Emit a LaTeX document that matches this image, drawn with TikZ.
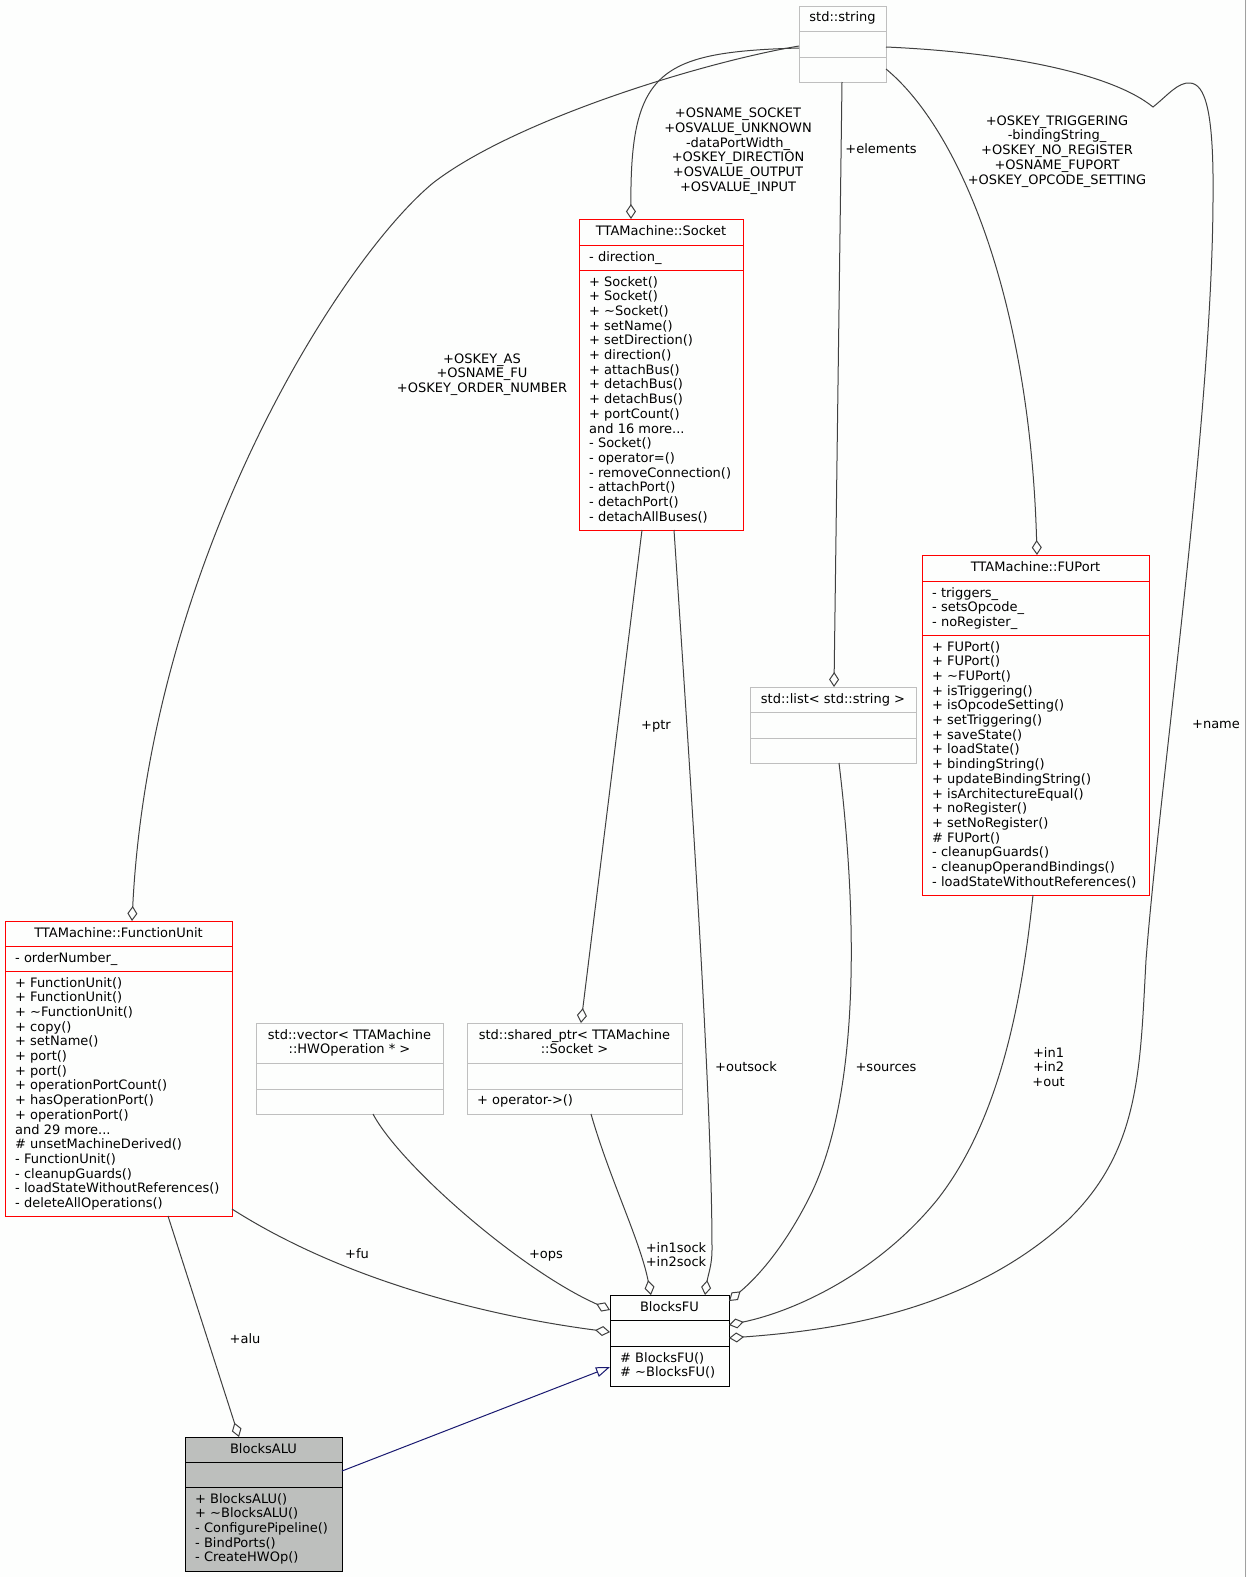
\documentclass[tikz,border=0pt]{standalone}
\usepackage{fontspec}
\setmainfont{DejaVu Sans}
\usetikzlibrary{arrows.meta}
\definecolor{edgegray}{HTML}{404040}
\definecolor{boxgray}{HTML}{BFBFBF}
\definecolor{altfill}{HTML}{BDBFBD}
\definecolor{inhblue}{HTML}{191970}
\definecolor{pagebg}{HTML}{FDFEFD}
\definecolor{rimgray}{HTML}{A0A0A0}
\newcommand{\dgS}{\rule{0pt}{11pt}}
\tikzset{
  classbox/.style={draw=#1, line width=1pt, inner sep=0pt, outer sep=0pt, anchor=north west},
  divider/.style={draw=#1, line width=1pt},
  ttl/.style={anchor=north, inner sep=0pt, align=center},
  mem/.style={anchor=north west, inner sep=0pt, align=left},
  lbl/.style={anchor=north, inner sep=0pt, align=center},
  agg/.style={draw=edgegray, line width=1pt, -{Diamond[open,length=15pt,width=10pt]}},
  inh/.style={draw=inhblue, line width=1pt, -{Triangle[open,length=14pt,width=10pt]}}
}
\begin{document}
\begin{tikzpicture}[x=1pt, y=-1pt, font=\fontsize{13}{14.7}\selectfont]
\useasboundingbox (0,0) rectangle (1247,1577);
\fill[pagebg] (0,0) rectangle (1247,1577);
\draw[rimgray, line width=1.2pt] (1245.8,0) -- (1245.8,1577);

% ---------- class boxes ----------
% std::string
\node[classbox=boxgray, minimum width=87pt, minimum height=76pt] (str) at (799,6) {};
\draw[divider=boxgray] (799,31.5) -- (886,31.5);
\draw[divider=boxgray] (799,57) -- (886,57);
\node[ttl] (str-t) at (842.5,10.5) {\dgS std::string};

% TTAMachine::Socket
\node[classbox=red, minimum width=164pt, minimum height=311pt] (socket) at (579,219) {};
\draw[divider=red] (579,245) -- (743,245);
\draw[divider=red] (579,270) -- (743,270);
\node[ttl] (socket-t) at (661,223.8) {\dgS TTAMachine::Socket};
\node[mem] (socket-a) at (589,249.8) {\dgS - direction\_};
\node[mem] (socket-m) at (589,274.8) {\dgS + Socket()\\+ Socket()\\+ \textasciitilde Socket()\\+ setName()\\+ setDirection()\\+ direction()\\+ attachBus()\\+ detachBus()\\+ detachBus()\\+ portCount()\\and 16 more...\\- Socket()\\- operator=()\\- removeConnection()\\- attachPort()\\- detachPort()\\- detachAllBuses()};

% TTAMachine::FUPort
\node[classbox=red, minimum width=227pt, minimum height=340pt] (fuport) at (922,555) {};
\draw[divider=red] (922,581) -- (1149,581);
\draw[divider=red] (922,635) -- (1149,635);
\node[ttl] (fuport-t) at (1035.5,559.8) {\dgS TTAMachine::FUPort};
\node[mem] (fuport-a) at (932,585.8) {\dgS - triggers\_\\- setsOpcode\_\\- noRegister\_};
\node[mem] (fuport-m) at (932,639.8) {\dgS + FUPort()\\+ FUPort()\\+ \textasciitilde FUPort()\\+ isTriggering()\\+ isOpcodeSetting()\\+ setTriggering()\\+ saveState()\\+ loadState()\\+ bindingString()\\+ updateBindingString()\\+ isArchitectureEqual()\\+ noRegister()\\+ setNoRegister()\\\# FUPort()\\- cleanupGuards()\\- cleanupOperandBindings()\\- loadStateWithoutReferences()};

% std::list< std::string >
\node[classbox=boxgray, minimum width=166pt, minimum height=76pt] (list) at (750,687) {};
\draw[divider=boxgray] (750,712) -- (916,712);
\draw[divider=boxgray] (750,738) -- (916,738);
\node[ttl] (list-t) at (833,691.8) {\dgS std::list< std::string >};

% TTAMachine::FunctionUnit
\node[classbox=red, minimum width=227pt, minimum height=295pt] (fu) at (5,921) {};
\draw[divider=red] (5,946) -- (232,946);
\draw[divider=red] (5,971) -- (232,971);
\node[ttl] (fu-t) at (118.5,925.8) {\dgS TTAMachine::FunctionUnit};
\node[mem] (fu-a) at (15,950.8) {\dgS - orderNumber\_};
\node[mem] (fu-m) at (15,975.8) {\dgS + FunctionUnit()\\+ FunctionUnit()\\+ \textasciitilde FunctionUnit()\\+ copy()\\+ setName()\\+ port()\\+ port()\\+ operationPortCount()\\+ hasOperationPort()\\+ operationPort()\\and 29 more...\\\# unsetMachineDerived()\\- FunctionUnit()\\- cleanupGuards()\\- loadStateWithoutReferences()\\- deleteAllOperations()};

% std::vector
\node[classbox=boxgray, minimum width=187pt, minimum height=91pt] (vec) at (256,1023) {};
\draw[divider=boxgray] (256,1063.5) -- (443,1063.5);
\draw[divider=boxgray] (256,1089) -- (443,1089);
\node[ttl] (vec-t) at (349.5,1027.8) {\dgS std::vector< TTAMachine\\::HWOperation * >};

% std::shared_ptr
\node[classbox=boxgray, minimum width=215pt, minimum height=91pt] (sptr) at (467,1023) {};
\draw[divider=boxgray] (467,1063.5) -- (682,1063.5);
\draw[divider=boxgray] (467,1089) -- (682,1089);
\node[ttl] (sptr-t) at (574.5,1027.8) {\dgS std::shared\_ptr< TTAMachine\\::Socket >};
\node[mem] (sptr-m) at (477,1093.5) {\dgS + operator->()};

% BlocksFU
\node[classbox=black, minimum width=119pt, minimum height=91pt] (bfu) at (610,1295) {};
\draw[divider=black] (610,1320) -- (729,1320);
\draw[divider=black] (610,1346) -- (729,1346);
\node[ttl] (bfu-t) at (669.5,1299.8) {\dgS BlocksFU};
\node[mem] (bfu-m) at (620,1350.8) {\dgS \# BlocksFU()\\\# \textasciitilde BlocksFU()};

% BlocksALU
\node[classbox=black, fill=altfill, minimum width=157pt, minimum height=134pt] (alu) at (185,1437) {};
\draw[divider=black] (185,1462) -- (342,1462);
\draw[divider=black] (185,1487) -- (342,1487);
\node[ttl] (alu-t) at (263.5,1441.8) {\dgS BlocksALU};
\node[mem] (alu-m) at (195,1491.8) {\dgS + BlocksALU()\\+ \textasciitilde BlocksALU()\\- ConfigurePipeline()\\- BindPorts()\\- CreateHWOp()};

% ---------- connectors ----------
% std::string -> FunctionUnit
\draw[agg] ([yshift=-40pt]str.north west) .. controls (699,63) and (513,121) .. (433,183)
   .. controls (340,260) and (150,560) .. ([xshift=127pt]fu.north west);
\node[lbl] (l-fu) at (482,352) {\dgS +OSKEY\_AS\\+OSNAME\_FU\\+OSKEY\_ORDER\_NUMBER};

% std::string -> Socket
\draw[agg] ([yshift=-42pt]str.north west) .. controls (660,52) and (630,70) .. ([xshift=52pt]socket.north west);
\node[lbl] (l-socket) at (738,106.5) {\dgS +OSNAME\_SOCKET\\+OSVALUE\_UNKNOWN\\-dataPortWidth\_\\+OSKEY\_DIRECTION\\+OSVALUE\_OUTPUT\\+OSVALUE\_INPUT};

% std::string -> list
\draw[agg] ([xshift=43pt]str.south west) -- ([xshift=84pt]list.north west);
\node[lbl] (l-elem) at (881,142.5) {\dgS +elements};

% std::string -> FUPort
\draw[agg] ([yshift=-63pt]str.north east) .. controls (960,130) and (1030,300) .. ([xshift=115pt]fuport.north west);
\node[lbl] (l-fuport) at (1057,114) {\dgS +OSKEY\_TRIGGERING\\-bindingString\_\\+OSKEY\_NO\_REGISTER\\+OSNAME\_FUPORT\\+OSKEY\_OPCODE\_SETTING};

% std::string -> BlocksFU (+name)
\draw[agg] ([yshift=-41pt]str.north east) .. controls (1000,52) and (1110,72) .. (1153,107)
   .. controls (1168,95) and (1178,82) .. (1190,83)
   .. controls (1205,84) and (1214,110) .. (1213,200)
   .. controls (1212,420) and (1160,780) .. (1146,960)
   .. controls (1140,1070) and (1140,1150) .. (1068,1220)
   .. controls (970,1310) and (840,1330) .. ([yshift=-43pt]bfu.north east);
\node[lbl] (l-name) at (1216,717) {\dgS +name};

% Socket -> shared_ptr
\draw[agg] ([xshift=63pt]socket.south west) -- ([xshift=114pt]sptr.north west);
\node[lbl] (l-ptr) at (656,718) {\dgS +ptr};

% Socket -> BlocksFU (+outsock)
\draw[agg] ([xshift=95pt]socket.south west) .. controls (692,800) and (712,1100) .. (712,1250)
   .. controls (712,1265) and (708,1275) .. ([xshift=95pt]bfu.north west);
\node[lbl] (l-outsock) at (746,1060.5) {\dgS +outsock};

% list -> BlocksFU (+sources)
\draw[agg] ([xshift=89pt]list.south west) .. controls (858,920) and (860,1100) .. (808,1200)
   .. controls (785,1245) and (760,1275) .. ([yshift=-6pt]bfu.north east);
\node[lbl] (l-sources) at (886,1060.5) {\dgS +sources};

% FUPort -> BlocksFU (+in1 +in2 +out)
\draw[agg] ([xshift=111pt]fuport.south west) .. controls (1022,1000) and (1000,1120) .. (937,1200)
   .. controls (880,1270) and (800,1310) .. ([yshift=-30pt]bfu.north east);
\node[lbl] (l-in) at (1048.5,1046) {\dgS +in1\\+in2\\+out};

% FunctionUnit -> BlocksALU (+alu)
\draw[agg] ([xshift=163pt]fu.south west) -- ([xshift=54pt]alu.north west);
\node[lbl] (l-alu) at (245,1332.5) {\dgS +alu};

% FunctionUnit -> BlocksFU (+fu)
\draw[agg] ([yshift=7pt]fu.south east) .. controls (340,1278) and (480,1315) .. ([yshift=-37pt]bfu.north west);
\node[lbl] (l-fuedge) at (357,1247.5) {\dgS +fu};

% vector -> BlocksFU (+ops)
\draw[agg] ([xshift=117pt]vec.south west) .. controls (400,1165) and (520,1270) .. ([yshift=-15pt]bfu.north west);
\node[lbl] (l-ops) at (546,1247.5) {\dgS +ops};

% shared_ptr -> BlocksFU (+in1sock +in2sock)
\draw[agg] ([xshift=124pt]sptr.south west) .. controls (610,1180) and (640,1240) .. ([xshift=41pt]bfu.north west);
\node[lbl] (l-sock) at (676,1241) {\dgS +in1sock\\+in2sock};

% inheritance BlocksALU -> BlocksFU
\draw[inh] ([yshift=-34pt]alu.north east) -- ([yshift=-72pt]bfu.north west);
\end{tikzpicture}
\end{document}
